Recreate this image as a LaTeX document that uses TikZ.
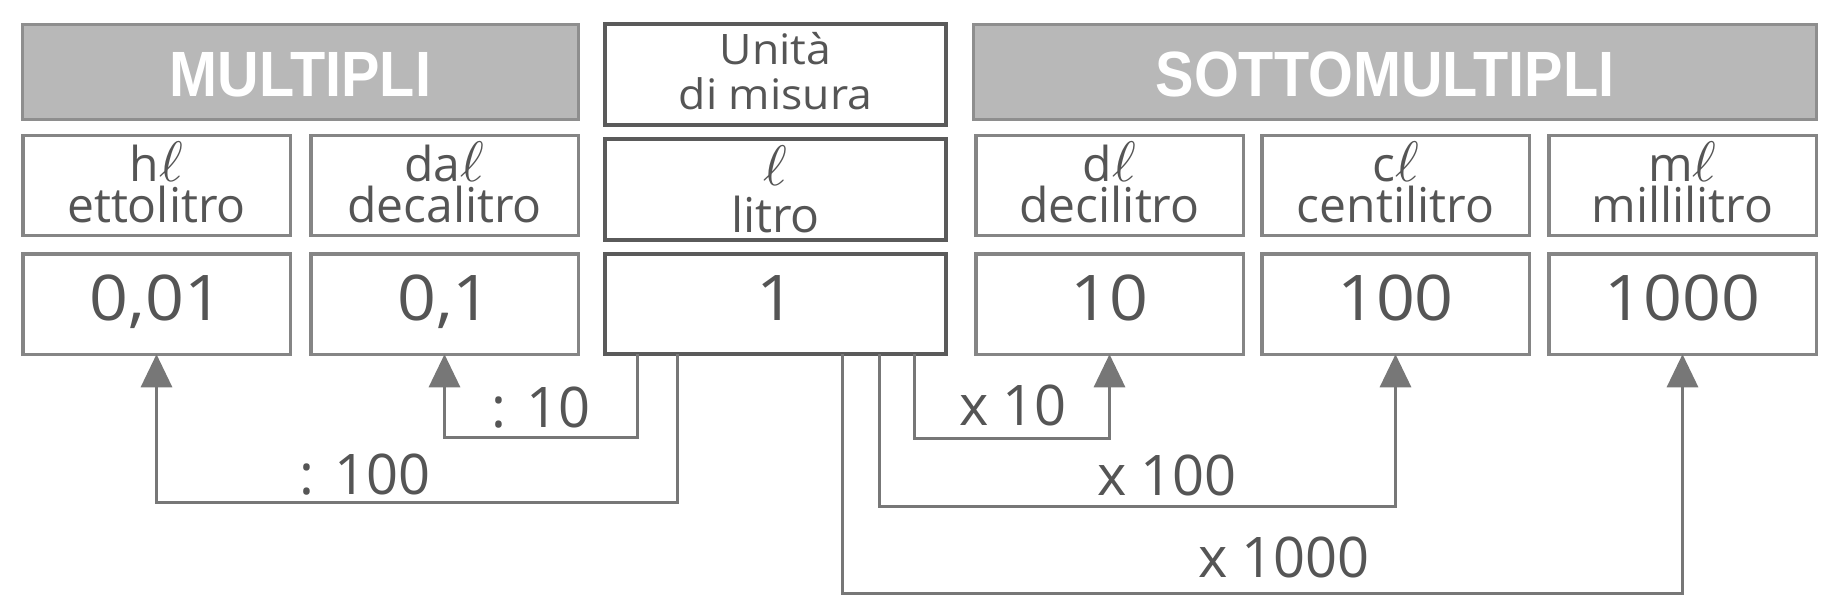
\documentclass[tikz,border=0pt]{standalone}
\usepackage{graphicx}
\usepackage{fontspec}
\setmainfont{Open Sans}
\newfontfamily\headfont{Liberation Sans}[FakeStretch=0.9]
\newfontfamily\widefont{Open Sans}[FakeStretch=1.06]
\newfontfamily\numfont{Open Sans}[FakeStretch=1.08]
\usetikzlibrary{arrows.meta,calc}
\definecolor{txt}{HTML}{555555}
\definecolor{sideline}{HTML}{858585}
\definecolor{midline}{HTML}{5A5A5A}
\definecolor{hdrfill}{HTML}{B8B8B8}
\definecolor{hdrline}{HTML}{8E8E8E}
\definecolor{conncol}{HTML}{777777}
\newcommand\Lsym{{\fontsize{10}{0}\selectfont\scalebox{5.7}{$\ell$}}}
\begin{document}
\begin{tikzpicture}[x=1pt,y=-1pt,
  basebox/.style={rectangle, inner sep=0pt, outer sep=0pt, align=center, text=txt},
  sidebox/.style={basebox, draw=sideline, line width=3.5pt, minimum width=267.5pt},
  midbox/.style={basebox, draw=midline, line width=4pt, minimum width=341pt, minimum height=101pt},
  hdr/.style={basebox, fill=hdrfill, draw=hdrline, line width=3pt, minimum height=95pt,
    text=white, font=\headfont\bfseries\fontsize{64}{64}\selectfont, text height=50pt, text depth=0pt},
  namebox/.style={sidebox, minimum height=99.5pt, font=\fontsize{48}{40}\selectfont, text height=80pt, text depth=7pt},
  valbox/.style={sidebox, minimum height=100.5pt, font=\numfont\fontsize{63}{63}\selectfont, text height=45pt, text depth=13pt},
  conn/.style={draw=conncol, line width=3pt},
  arr/.style={conn, -{Triangle[width=31pt,length=33pt]}},
  lab/.style={anchor=base, inner sep=0pt, text=txt, font=\fontsize{56}{56}\selectfont}]
\useasboundingbox (0,0) rectangle (1847,615);
% headers
\node[hdr, minimum width=556pt] (mult) at (300.5,72) {MULTIPLI};
\node[hdr, minimum width=843pt] (sotto) at (1395,72) {SOTTOMULTIPLI\hspace*{20pt}};
\node[midbox, font=\widefont\fontsize{42}{45}\selectfont, text height=80pt, text depth=9pt] (unita) at (775.5,74.5) {Unità\\di misura};
% names
\node[namebox] (hl) at (156.5,185.5) {h\Lsym\\ettolitro};
\node[namebox] (dal) at (444.5,185.5) {da\Lsym\\decalitro};
\node[midbox, font=\fontsize{48}{47}\selectfont, text height=90pt, text depth=5pt] (lit) at (775.5,189.5) {\Lsym\\litro};
\node[namebox] (dl) at (1109.5,185.5) {d\Lsym\\decilitro};
\node[namebox] (cl) at (1395.5,185.5) {c\Lsym\\centilitro};
\node[namebox] (ml) at (1682.5,185.5) {m\Lsym\\millilitro};
% values
\node[valbox] (hlv) at (156.5,304) {0,01};
\node[valbox] (dalv) at (444.5,304) {0,1};
\node[midbox, minimum height=100pt, font=\numfont\fontsize{63}{63}\selectfont, text height=45pt, text depth=13pt] (cval) at (775.5,304) {1};
\node[valbox] (dlv) at (1109.5,304) {10};
\node[valbox] (clv) at (1395.5,304) {100};
\node[valbox] (mlv) at (1682.5,304) {1000};
% connectors
\draw[arr] ($(cval.south west)+(32,0)$) -- ++(0,83) -| (dalv.south);
\draw[arr] ($(cval.south west)+(72,0)$) -- ++(0,148) -| (hlv.south);
\draw[arr] ($(cval.south west)+(309,0)$) -- ++(0,84) -| (dlv.south);
\draw[arr] ($(cval.south west)+(274,0)$) -- ++(0,152) -| (clv.south);
\draw[arr] ($(cval.south west)+(237,0)$) -- ++(0,239) -| (mlv.south);
% labels
\node[lab] (d10) at (541,427) {: 10};
\node[lab] (d100) at (365,494) {: 100};
\node[lab] (m10) at (1013,425) {x 10};
\node[lab] (m100) at (1167,495) {x 100};
\node[lab] (m1000) at (1284,577) {x 1000};
\end{tikzpicture}
\end{document}
